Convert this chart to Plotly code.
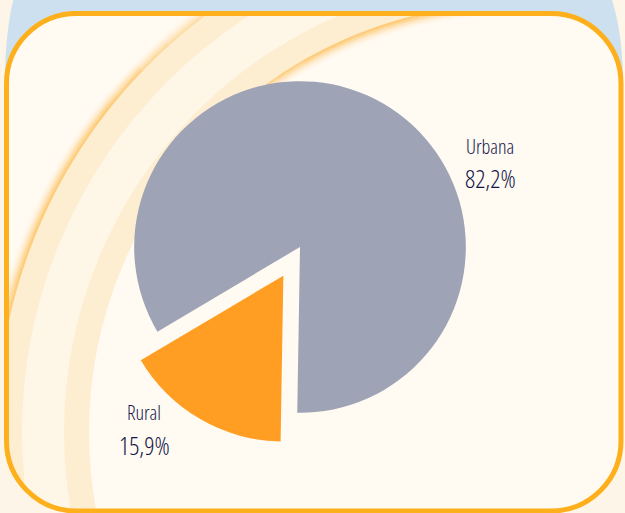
import plotly.graph_objects as go
import numpy as np

# ---------------- data ----------------
categories = ["Urbana", "Rural"]
values = [82.2, 15.9]
value_labels = ["82,2%", "15,9%"]
slice_colors = ["#9fa3b6", "#ff9e22"]
pulls = [0, 0.2]

# ---------------- canvas ----------------
W, H = 625, 513
PAGE = "#fdf5e7"
INNER = "#fffaf2"
BAND_LIGHT = "#fdeed2"
BAND_CREAM = "#fef6e6"
BLUE = "#cde0ef"
BORDER = "#feb01c"
TEXT = "#12174a"


def px(x):
    return x / W


def py(y):
    return 1 - y / H


def P(x, y):
    return f"{px(x):.5f},{py(y):.5f}"


K = 0.5523


def rrect_path(l, t, r, b, rad, reverse=False):
    k = rad * K
    if not reverse:
        pts = [
            f"M{P(l + rad, t)}",
            f"L{P(r - rad, t)}",
            f"C{P(r - rad + k, t)} {P(r, t + rad - k)} {P(r, t + rad)}",
            f"L{P(r, b - rad)}",
            f"C{P(r, b - rad + k)} {P(r - rad + k, b)} {P(r - rad, b)}",
            f"L{P(l + rad, b)}",
            f"C{P(l + rad - k, b)} {P(l, b - rad + k)} {P(l, b - rad)}",
            f"L{P(l, t + rad)}",
            f"C{P(l, t + rad - k)} {P(l + rad - k, t)} {P(l + rad, t)}",
            "Z",
        ]
    else:
        pts = [
            f"M{P(l + rad, t)}",
            f"C{P(l + rad - k, t)} {P(l, t + rad - k)} {P(l, t + rad)}",
            f"L{P(l, b - rad)}",
            f"C{P(l, b - rad + k)} {P(l + rad - k, b)} {P(l + rad, b)}",
            f"L{P(r - rad, b)}",
            f"C{P(r - rad + k, b)} {P(r, b - rad + k)} {P(r, b - rad)}",
            f"L{P(r, t + rad)}",
            f"C{P(r, t + rad - k)} {P(r - rad + k, t)} {P(r - rad, t)}",
            "Z",
        ]
    return " ".join(pts)


L_, T_, R_, B_, RAD = 6.5, 13.5, 621, 511, 70

shapes = []

k = RAD * K
blue_path = " ".join([
    f"M{P(14, -3)}",
    f"Q{P(3, 40)} {P(5, 110)}",
    f"L{P(L_, 110)}",
    f"L{P(L_, T_ + RAD)}",
    f"C{P(L_, T_ + RAD - k)} {P(L_ + RAD - k, T_)} {P(L_ + RAD, T_)}",
    f"L{P(R_ - RAD, T_)}",
    f"C{P(R_ - RAD + k, T_)} {P(R_, T_ + RAD - k)} {P(R_, T_ + RAD)}",
    f"L{P(R_, 95)}",
    f"L{P(623, 95)}",
    f"Q{P(624, 35)} {P(611, -3)}",
    "Z",
])

# card interior
shapes.append(dict(type="path", xref="paper", yref="paper",
                   path=rrect_path(L_, T_, R_, B_, RAD), fillcolor=INNER,
                   line=dict(width=0), layer="below"))

# concentric decorative bands
CX, CY = 517, 432
bands = [(521, BAND_LIGHT), (495, BAND_CREAM), (453, BAND_LIGHT), (428, INNER)]
for rr, col in bands:
    shapes.append(dict(type="circle", xref="paper", yref="paper",
                       x0=px(CX - rr), x1=px(CX + rr), y0=py(CY + rr), y1=py(CY - rr),
                       fillcolor=col, line=dict(width=0), layer="below"))


def arc_path(r, t0, t1, n=6):
    th = np.radians(np.linspace(t0, t1, n))
    xs = CX + r * np.cos(th)
    ys = CY + r * np.sin(th)
    return "M" + " L".join(P(x, y) for x, y in zip(xs, ys))


def outer_amp(t):
    if t > -132:
        return 0.55
    if t > -140:
        return 0.55 + 0.45 * (-132 - t) / 8
    if t < -168:
        return 0.6
    return 1.0


def inner_amp(t):
    if t > -118:
        return 1.0
    if t < -150:
        return 0.0
    return (t + 150) / 32


NG = 10
seg = 4
for i in range(NG):
    a = 0.45 * (1 - i / NG) ** 2
    for t0 in np.arange(-176, -100, seg):
        am = outer_amp(t0 + seg / 2)
        if am > 0:
            shapes.append(dict(type="path", xref="paper", yref="paper",
                               path=arc_path(521 + i * 1.2, t0, t0 + seg),
                               line=dict(width=1.8, color=f"rgba(252,166,22,{a*am:.3f})"),
                               layer="below"))
    for t0 in np.arange(-152, -80, seg):
        am = inner_amp(t0 + seg / 2)
        if am > 0:
            shapes.append(dict(type="path", xref="paper", yref="paper",
                               path=arc_path(428 - i * 1.2, t0, t0 + seg),
                               line=dict(width=1.8, color=f"rgba(252,166,22,{a*am:.3f})"),
                               layer="below"))

# mask outside the card, blue backdrop and border
mask_path = (f"M{P(-20, -20)} L{P(W + 20, -20)} L{P(W + 20, H + 20)} L{P(-20, H + 20)} Z "
             + rrect_path(L_, T_, R_, B_, RAD, reverse=True))
shapes.append(dict(type="path", xref="paper", yref="paper", path=mask_path,
                   fillcolor=PAGE, line=dict(width=0), layer="below"))
shapes.append(dict(type="path", xref="paper", yref="paper", path=blue_path,
                   fillcolor=BLUE, line=dict(width=0), layer="below"))
shapes.append(dict(type="path", xref="paper", yref="paper",
                   path=rrect_path(L_, T_, R_, B_, RAD), fillcolor="rgba(0,0,0,0)",
                   line=dict(width=5, color=BORDER), layer="below"))

fig = go.Figure()
fig.add_trace(go.Pie(
    labels=categories,
    values=values,
    sort=False,
    direction="clockwise",
    rotation=-120.7,
    pull=pulls,
    marker=dict(colors=slice_colors, line=dict(width=0)),
    textinfo="none",
    hoverinfo="label+percent",
    showlegend=False,
    domain=dict(x=[101 / W, 499 / W], y=[1 - 446 / H, 1 - 48 / H]),
))

FONT = "Open Sans"
label_pos = {"Urbana": (490, 147, 178), "Rural": (144, 412, 444.5)}
annotations = []
for cat, vl in zip(categories, value_labels):
    x, yn, yv = label_pos[cat]
    annotations.append(dict(x=px(x), y=py(yn), xref="paper", yref="paper",
                            text=f"<span style='font-stretch:condensed'>{cat}</span>",
                            showarrow=False, xanchor="center", yanchor="middle",
                            font=dict(family=FONT, size=20, color=TEXT, weight=300)))
    annotations.append(dict(x=px(x), y=py(yv), xref="paper", yref="paper",
                            text=f"<span style='font-stretch:condensed'>{vl}</span>",
                            showarrow=False, xanchor="center", yanchor="middle",
                            font=dict(family=FONT, size=25, color=TEXT, weight=300)))

fig.update_layout(
    width=W, height=H,
    margin=dict(l=0, r=0, t=0, b=0),
    paper_bgcolor=PAGE,
    plot_bgcolor=PAGE,
    shapes=shapes,
    annotations=annotations,
)

fig.write_html("out.html", config={"displayModeBar": False},
               post_script="document.body.style.margin='0';document.body.style.overflow='hidden';")
